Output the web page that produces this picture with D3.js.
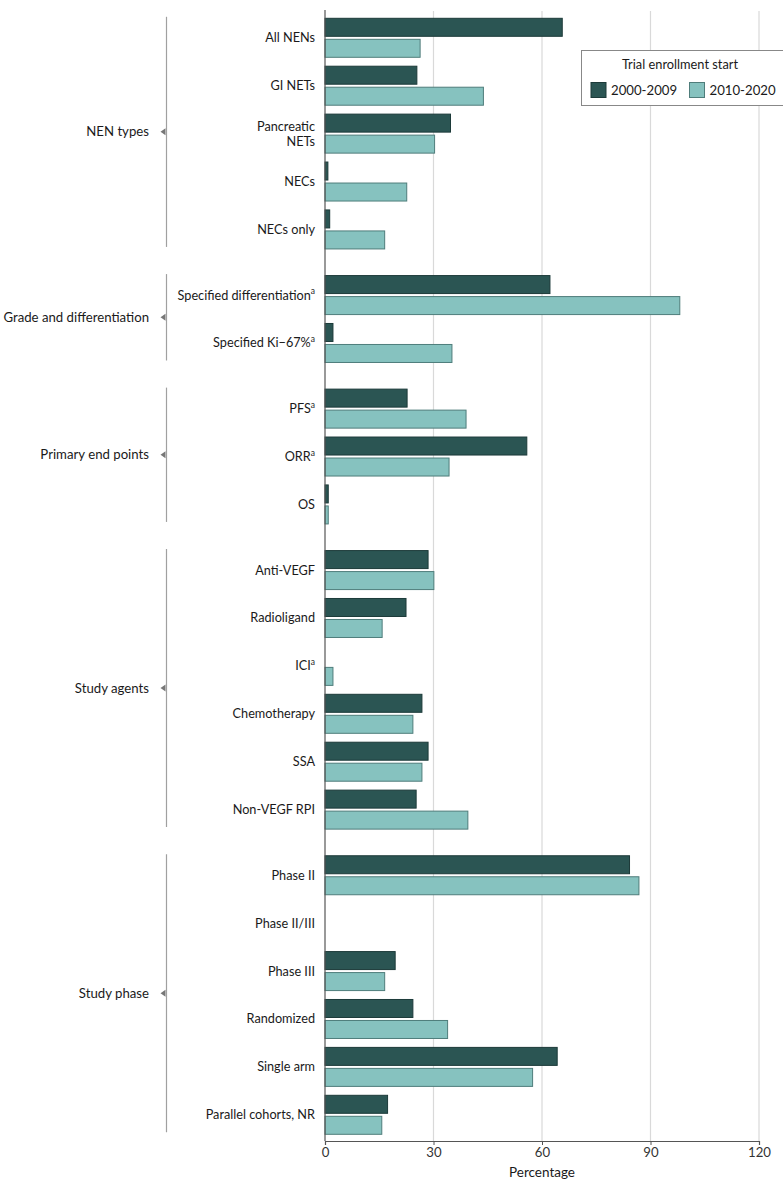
<!DOCTYPE html>
<html><head><meta charset="utf-8">
<script src="https://cdn.jsdelivr.net/npm/d3@7"></script>
<style>
html,body{margin:0;padding:0;background:#fff;}
text{font-family:Lato,"Open Sans",sans-serif;}
</style></head>
<body><svg id="chart" width="783" height="1199"></svg>
<script>
// ---- data ----
const groups = ["NEN types","Grade and differentiation","Primary end points","Study agents","Study phase"];
const categories = [
  {g:0, label:["All NENs"]},
  {g:0, label:["GI NETs"]},
  {g:0, label:["Pancreatic","NETs"]},
  {g:0, label:["NECs"]},
  {g:0, label:["NECs only"]},
  {g:1, label:["Specified differentiation"], sup:true},
  {g:1, label:["Specified Ki−67%"], sup:true},
  {g:2, label:["PFS"], sup:true},
  {g:2, label:["ORR"], sup:true},
  {g:2, label:["OS"]},
  {g:3, label:["Anti-VEGF"]},
  {g:3, label:["Radioligand"]},
  {g:3, label:["ICI"], sup:true},
  {g:3, label:["Chemotherapy"]},
  {g:3, label:["SSA"]},
  {g:3, label:["Non-VEGF RPI"]},
  {g:4, label:["Phase II"]},
  {g:4, label:["Phase II/III"]},
  {g:4, label:["Phase III"]},
  {g:4, label:["Randomized"]},
  {g:4, label:["Single arm"]},
  {g:4, label:["Parallel cohorts, NR"]}
];
const seriesNames = ["2000-2009","2010-2020"];
const values2000 = [65.6,25.4,34.7,0.8,1.3, 62.2,2.2, 22.7,55.8,0.9, 28.5,22.4,null,26.8,28.5,25.2, 84.2,null,19.4,24.3,64.2,17.3];
const values2010 = [26.3,43.8,30.3,22.6,16.5, 98.1,35.1, 39.0,34.3,0.9, 30.1,15.8,2.2,24.3,26.8,39.5, 86.8,null,16.5,33.9,57.4,15.7];
const xTicks = [0,30,60,90,120];
const legendTitle = "Trial enrollment start";
const xTitle = "Percentage";

// ---- layout ----
const svg = d3.select("#chart");
const colors = {fill:["#2b5553","#86c2bf"], stroke:["#1c3a39","#4f7d7b"]};
const x = d3.scaleLinear().domain([0,120]).range([325,759]);
const gapRatio = 0.37;
const pos = categories.map((c,i)=> i + c.g*gapRatio);
const y = d3.scaleLinear().domain([0, pos[pos.length-1]]).range([18.3, 1095.3]);
const inner = d3.scaleBand().domain(seriesNames).range([0,39]).paddingInner(0.143);
const textColor = "#1a1a1a";

// gridlines
svg.append("g").selectAll("line").data(xTicks.slice(1)).join("line")
  .attr("x1",d=>x(d)).attr("x2",d=>x(d)).attr("y1",11).attr("y2",1141)
  .attr("stroke","#d9d9d9").attr("stroke-width",1.2);

// bars
const rows = svg.append("g").selectAll("g").data(categories).join("g")
  .attr("transform",(d,i)=>`translate(0,${y(pos[i])})`);
[values2000, values2010].forEach((vals,si)=>{
  rows.filter((d,i)=>vals[i]!=null).append("rect")
    .attr("x",x(0))
    .attr("y",inner(seriesNames[si]))
    .attr("width",function(){const i=categories.indexOf(d3.select(this.parentNode).datum());return x(vals[i])-x(0);})
    .attr("height",inner.bandwidth())
    .attr("fill",colors.fill[si])
    .attr("stroke",colors.stroke[si])
    .attr("stroke-width",1);
});

// category labels
rows.each(function(d){
  const g = d3.select(this);
  const n = d.label.length;
  const lh = 15;
  d.label.forEach((t,k)=>{
    const txt = g.append("text")
      .attr("x",315)
      .attr("y",19.5 + (k-(n-1)/2)*lh)
      .attr("dy","0.35em")
      .attr("text-anchor","end")
      .attr("font-size",12.7)
      .attr("fill",textColor);
    txt.append("tspan").text(t);
    if(d.sup && k===n-1){
      txt.append("tspan").text("a").attr("font-size",8.5).attr("dy","-0.6em");
    }
  });
});

// axes lines
svg.append("line").attr("x1",x(0)).attr("x2",x(0)).attr("y1",10).attr("y2",1141)
  .attr("stroke","#555").attr("stroke-width",1.2);
const xAxis = svg.append("g").attr("transform","translate(0,1141)")
  .call(d3.axisBottom(x).tickValues(xTicks).tickSize(4).tickPadding(3));
xAxis.select(".domain").attr("stroke","#555").attr("stroke-width",1.2);
xAxis.selectAll(".tick line").attr("stroke","#555");
xAxis.selectAll("text").attr("font-size",13.2).attr("fill","#333").attr("font-family","Lato,sans-serif");
svg.append("text").attr("x",542).attr("y",1177).attr("text-anchor","middle")
  .attr("font-size",13.5).attr("fill",textColor).text(xTitle);

// group brackets
groups.forEach((gname,gi)=>{
  const idx = categories.map((c,i)=>c.g===gi?i:-1).filter(i=>i>=0);
  const top = y(pos[idx[0]]) - 1.5;
  const bot = y(pos[idx[idx.length-1]]) + 37;
  const mid = (top+bot)/2;
  svg.append("line").attr("x1",166.5).attr("x2",166.5).attr("y1",top).attr("y2",bot)
    .attr("stroke","#a0a0a0").attr("stroke-width",1.2);
  svg.append("path").attr("d",`M${160.5},${mid} L${165.5},${mid-3.5} L${165.5},${mid+3.5} Z`)
    .attr("fill","#777");
  svg.append("text").attr("x",149).attr("y",mid).attr("dy","0.35em")
    .attr("text-anchor","end").attr("font-size",13.2).attr("fill",textColor).text(gname);
});

// legend
const lg = svg.append("g");
lg.append("rect").attr("x",581.5).attr("y",50.5).attr("width",210).attr("height",55)
  .attr("fill","#fff").attr("stroke","#888").attr("stroke-width",1);
lg.append("text").attr("x",680).attr("y",69).attr("text-anchor","middle")
  .attr("font-size",12.8).attr("fill",textColor).text(legendTitle);
const lx = [591, 689.5];
seriesNames.forEach((s,si)=>{
  lg.append("rect").attr("x",lx[si]).attr("y",82.5).attr("width",15).attr("height",15)
    .attr("fill",colors.fill[si]).attr("stroke",colors.stroke[si]);
  lg.append("text").attr("x",lx[si]+20).attr("y",90).attr("dy","0.35em")
    .attr("font-size",13.2).attr("fill",textColor).text(s);
});
</script></body></html>
